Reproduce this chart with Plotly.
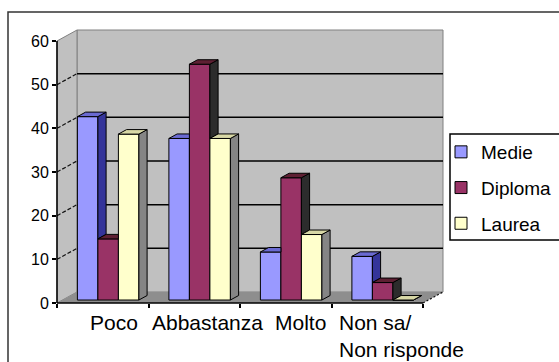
import plotly.graph_objects as go

# ---- data -------------------------------------------------------------
categories = ["Poco", "Abbastanza", "Molto", "Non sa/<br>Non risponde"]
series_names = ["Medie", "Diploma", "Laurea"]
medie = [42, 37, 11, 10]
diploma = [14, 54, 28, 4]
laurea = [38, 37, 15, 0]
y_ticks = [0, 10, 20, 30, 40, 50, 60]

# ---- styling ------------------------------------------------------------
FONT = "Liberation Sans, Arial, sans-serif"
FRONT_COLORS = ["#9999ff", "#993366", "#ffffcc"]
TOP_COLORS = ["#6a6ad2", "#5e2033", "#d8d8a6"]
SIDE_COLORS = ["#34349a", "#2c2c2c", "#858585"]
WALL = "#c0c0c0"
FLOOR = "#8e8e8e"
WALL_EDGE = "#808080"

# ---- geometry of the 3-D box (pixels) -------------------------------------
W, H = 559, 362
FRONT_LEFT, FRONT_RIGHT = 57, 423      # front edge of the floor
FRONT_BASE, FRONT_TOP = 303, 41        # value 0 and value 60 on the front axis
Y_MAX = y_ticks[-1]
n = len(categories)
PX_X = (FRONT_RIGHT - FRONT_LEFT) / n  # pixels per category
PX_Y = (FRONT_BASE - FRONT_TOP) / Y_MAX  # pixels per value unit
DX = 20 / PX_X                         # depth shift of the back wall
DY = 11 / PX_Y
BAR_FRONT, BAR_BACK = 0.27, 0.68       # depth slice occupied by the bars
BW = 20.5 / PX_X                       # bar width in category units
bdx = (BAR_BACK - BAR_FRONT) * DX
bdy = (BAR_BACK - BAR_FRONT) * DY
base = BAR_FRONT * DY
x0, x1 = -0.5, n - 0.5

fig = go.Figure()

# the front axes subplot (value scale and category boundaries)
fig.add_trace(go.Scatter(x=[None], y=[None], xaxis="x", yaxis="y",
                         showlegend=False, hoverinfo="skip"))

# front faces of the bars
values = [medie, diploma, laurea]
for s, (name, vals) in enumerate(zip(series_names, values)):
    xs = [i + BAR_FRONT * DX + (s - 1) * BW for i in range(n)]
    fig.add_trace(go.Bar(
        x=xs, y=vals, base=[base] * n, width=BW, name=name,
        legendgroup=name, xaxis="x2", yaxis="y2",
        marker=dict(color=FRONT_COLORS[s], line=dict(color="black", width=1)),
        hoverinfo="skip",
    ))


def face(px, py, color):
    fig.add_trace(go.Scatter(
        x=px + [px[0]], y=py + [py[0]], mode="lines", fill="toself",
        fillcolor=color, line=dict(color="black", width=1),
        xaxis="x2", yaxis="y2", showlegend=False, hoverinfo="skip",
    ))


# side and top faces, hidden parts removed where the next bar is in front
for i in range(n):
    for s in range(3):
        v = values[s][i]
        xl = i + BAR_FRONT * DX + (s - 1.5) * BW
        xr = xl + BW
        h = base + v
        nxt = values[s + 1][i] if s < 2 else None
        low = base if nxt is None else base + nxt
        if nxt is None or v > nxt:
            face([xr, xr + bdx, xr + bdx, xr],
                 [low, low + bdy, h + bdy, h], SIDE_COLORS[s])
        if nxt is not None and nxt > v:
            face([xl, xr, xr, xl + bdx],
                 [h, h, h + bdy, h + bdy], TOP_COLORS[s])
        else:
            face([xl, xr, xr + bdx, xl + bdx],
                 [h, h, h + bdy, h + bdy], TOP_COLORS[s])

shapes = []
# chart border and legend frame
shapes.append(dict(type="rect", xref="paper", yref="paper",
                   x0=8 / W, x1=1.05, y0=-0.05, y1=1 - 12 / H,
                   line=dict(color="#333333", width=1.5), layer="below"))
shapes.append(dict(type="rect", xref="paper", yref="paper",
                   x0=450 / W, x1=1.05, y0=1 - 240 / H, y1=1 - 134 / H,
                   fillcolor="white", line=dict(color="black", width=1.5),
                   layer="below"))


def poly(pts, fill=None, color=None, width=1, dash=None, layer="below"):
    path = "M " + " L ".join(f"{a},{b}" for a, b in pts)
    if fill:
        path += " Z"
    d = dict(type="path", xref="x2", yref="y2", path=path, layer=layer,
             line=dict(color=color or "rgba(0,0,0,0)", width=width))
    if dash:
        d["line"]["dash"] = dash
    if fill:
        d["fillcolor"] = fill
    shapes.append(d)


# back wall, left wall, floor
poly([(x0 + DX, DY), (x1 + DX, DY), (x1 + DX, Y_MAX + DY), (x0 + DX, Y_MAX + DY)],
     fill=WALL, color=WALL_EDGE)
poly([(x0, 0), (x0 + DX, DY), (x0 + DX, Y_MAX + DY), (x0, Y_MAX)],
     fill=WALL, color=WALL_EDGE)
poly([(x0, 0), (x1, 0), (x1 + DX, DY), (x0 + DX, DY)], fill=FLOOR)
# gridlines on the back wall and on the side wall
for t in y_ticks[1:-1]:
    poly([(x0 + DX, t + DY), (x1 + DX, t + DY)], color="black", width=1.5)
    poly([(x0, t), (x0 + DX, t + DY)], color="#111111", width=1.2, dash="4px,2px")
poly([(x1, 0), (x1 + DX, DY)], color="#111111", width=1.2, dash="2px,2px")
# front edges of the box (value axis and floor edge)
poly([(x0, 0), (x0, Y_MAX)], color="black", width=1.5, layer="above")
poly([(x0, 0), (x1, 0)], color="black", width=1.5, layer="above")

# category labels under the floor
LABEL_NUDGE_PX = [11, 13, 15, 24]
annotations = []
for i, lab in enumerate(categories):
    annotations.append(dict(
        x=i, y=0, xref="x2", yref="y2", text=lab, showarrow=False,
        xanchor="center", yanchor="top", align="left",
        xshift=LABEL_NUDGE_PX[i], yshift=-6,
        font=dict(family=FONT, size=21, color="black"),
    ))

fig.update_layout(
    width=W, height=H,
    margin=dict(l=0, r=0, t=0, b=0, pad=0, autoexpand=False),
    paper_bgcolor="white", plot_bgcolor="rgba(0,0,0,0)",
    barmode="overlay", shapes=shapes, annotations=annotations,
    font=dict(family=FONT, color="black"),
    # front axes of the box
    xaxis=dict(domain=[FRONT_LEFT / W, FRONT_RIGHT / W], range=[x0, x1],
               anchor="y", showline=False,
               ticks="outside", ticklen=4, tickcolor="black", tickwidth=1.5,
               tickvals=[x0 + k for k in range(n + 1)], showticklabels=False,
               showgrid=False, zeroline=False),
    yaxis=dict(domain=[1 - FRONT_BASE / H, 1 - FRONT_TOP / H], range=[0, Y_MAX],
               anchor="x", showline=False,
               ticks="outside", ticklen=4, tickcolor="black", tickwidth=1.5,
               tickvals=y_ticks, tickfont=dict(size=16, family=FONT),
               showgrid=False, zeroline=False),
    # full-canvas axes carrying the 3-D drawing
    xaxis2=dict(domain=[0, 1], anchor="y2", visible=False,
                range=[x0 - FRONT_LEFT / PX_X, x0 + (W - FRONT_LEFT) / PX_X]),
    yaxis2=dict(domain=[0, 1], anchor="x2", visible=False,
                range=[-(H - FRONT_BASE) / PX_Y, FRONT_BASE / PX_Y]),
    legend=dict(x=441 / W, y=1 - 133 / H, xanchor="left", yanchor="top",
                bgcolor="rgba(0,0,0,0)", borderwidth=0, tracegroupgap=8,
                font=dict(family=FONT, size=19, color="black")),
)

fig.write_html("out.html")
